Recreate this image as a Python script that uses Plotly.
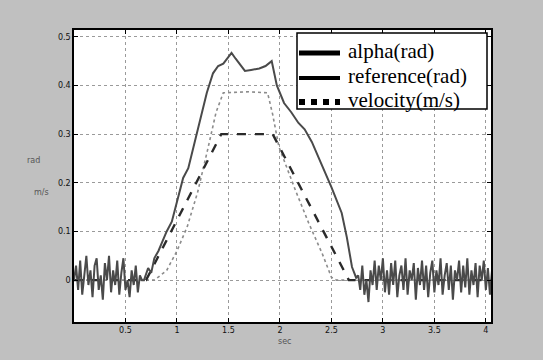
import plotly.graph_objects as go

# ---- data ----
noise_dt = 0.02
alpha_noise_start_t0 = 0.0
alpha_noise_start = [0.00, 0.03, -0.02, 0.04, -0.03, 0.01, 0.05, -0.01, 0.02, -0.035,
                     0.03, 0.045, -0.02, 0.01, -0.04, 0.035, 0.0, 0.05, -0.025, 0.02,
                     -0.01, 0.04, -0.03, 0.015, 0.045, -0.02, 0.0, -0.035, 0.02, -0.01,
                     0.03, -0.025, 0.01, 0.0]
alpha_main_t = [0.68, 0.72, 0.75, 0.78, 0.82, 0.86, 0.90, 0.95, 1.00, 1.06, 1.11, 1.19,
                1.25, 1.29, 1.35, 1.40, 1.45, 1.50, 1.53, 1.57, 1.62, 1.66, 1.72, 1.80,
                1.86, 1.90, 1.92, 1.97, 2.04, 2.11, 2.18, 2.24, 2.31, 2.40, 2.50, 2.60,
                2.65, 2.70, 2.74]
alpha_main_v = [0.0, 0.025, 0.015, 0.045, 0.06, 0.08, 0.10, 0.12, 0.16, 0.21, 0.23, 0.30,
                0.35, 0.385, 0.425, 0.44, 0.445, 0.46, 0.467, 0.455, 0.44, 0.43, 0.432, 0.435,
                0.44, 0.448, 0.45, 0.40, 0.364, 0.345, 0.323, 0.31, 0.284, 0.24, 0.191, 0.138,
                0.088, 0.027, 0.005]
alpha_noise_end_t0 = 2.76
alpha_noise_end = [0.01, -0.02, 0.03, -0.03, 0.0, -0.045, 0.02, -0.01, 0.04, -0.02,
                   0.03, 0.0, 0.045, -0.025, 0.02, -0.03, 0.035, -0.01, 0.04, -0.035,
                   0.01, 0.03, -0.02, 0.045, -0.03, 0.02, 0.0, 0.035, -0.04, 0.025,
                   -0.01, 0.04, -0.02, 0.03, -0.035, 0.015, 0.04, -0.025, 0.02, -0.01,
                   0.045, -0.03, 0.01, 0.035, -0.02, 0.03, -0.04, 0.02, 0.0, 0.04,
                   -0.025, 0.03, -0.015, 0.045, -0.03, 0.02, -0.01, 0.035, -0.035, 0.03,
                   0.0, 0.04, -0.02, 0.025, -0.03, 0.02]

ref_t = [0.0, 0.70, 1.43, 1.93, 2.67, 4.07]
ref_v = [0.0, 0.0, 0.30, 0.30, 0.0, 0.0]

vel_t = [0.0, 0.78, 0.90, 1.00, 1.10, 1.20, 1.30, 1.38, 1.45, 1.70, 1.88, 1.93, 1.99,
         2.15, 2.28, 2.41, 2.50, 2.55, 4.07]
vel_v = [0.0, 0.0, 0.02, 0.06, 0.11, 0.18, 0.27, 0.345, 0.385, 0.387, 0.385, 0.34, 0.274,
         0.185, 0.117, 0.055, 0.006, 0.0, 0.0]

x_ticks = [0.5, 1, 1.5, 2, 2.5, 3, 3.5, 4]
x_tick_text = ["0.5", "1", "1.5", "2", "2.5", "3", "3.5", "4"]
y_ticks = [0, 0.1, 0.2, 0.3, 0.4, 0.5]
y_tick_text = ["0", "0.1", "0.2", "0.3", "0.4", "0.5"]
legend_names = ["alpha(rad)", "reference(rad)", "velocity(m/s)"]

# build alpha series
alpha_t = [alpha_noise_start_t0 + i * noise_dt for i in range(len(alpha_noise_start))]
alpha_t += alpha_main_t
alpha_t += [alpha_noise_end_t0 + i * noise_dt for i in range(len(alpha_noise_end))]
alpha_v = alpha_noise_start + alpha_main_v + alpha_noise_end

# page offset of the figure (browser body margin)
OFF = 8
W, H = 543, 360
BG = "#c0c0c0"
# plot area in page pixels: left 74, right 491, top 30, bottom 322
ML, MT = 74 - OFF, 30 - OFF
MR = W - (491 - OFF)
MB = H - (322 - OFF)
plot_w = W - ML - MR
plot_h = H - MT - MB


def fx(px):
    return (px - OFF - ML) / plot_w


def fy(py):
    return (H - MB - (py - OFF)) / plot_h


fig = go.Figure()
fig.add_trace(go.Scatter(x=vel_t, y=vel_v, mode="lines", name=legend_names[2],
                         showlegend=False,
                         line=dict(color="#8c8c8c", width=1.6, dash="dot")))
fig.add_trace(go.Scatter(x=ref_t, y=ref_v, mode="lines", name=legend_names[1],
                         showlegend=False,
                         line=dict(color="#2a2a2a", width=2.4, dash="dash")))
fig.add_trace(go.Scatter(x=alpha_t, y=alpha_v, mode="lines", name=legend_names[0],
                         showlegend=False,
                         line=dict(color="#4a4a4a", width=2)))

axis_common = dict(showline=True, linecolor="#000000", linewidth=1.5, mirror="ticks",
                   ticks="inside", ticklen=4, tickcolor="#000000",
                   showgrid=True, gridcolor="#9a9a9a", griddash="dot", gridwidth=1,
                   zeroline=False, tickfont=dict(family="DejaVu Sans", size=8, color="#111111"))

fig.update_xaxes(range=[0, 4.05], tickvals=x_ticks, ticktext=x_tick_text, **axis_common)
fig.update_yaxes(range=[-0.086, 0.514], tickvals=y_ticks, ticktext=y_tick_text, **axis_common)

# legend box drawn by hand (to match the tight row spacing of the original)
shapes = [dict(type="rect", xref="paper", yref="paper",
               x0=fx(297), x1=fx(487), y0=fy(109), y1=fy(33),
               fillcolor="#ffffff", line=dict(color="#000000", width=1.5), layer="above")]
rows_y = [52, 77, 101]
sym_styles = [dict(color="#000000", width=5),
              dict(color="#000000", width=4),
              dict(color="#000000", width=6, dash="6px,6px")]
annotations = []
for ry, st, name in zip(rows_y, sym_styles, legend_names):
    shapes.append(dict(type="line", xref="paper", yref="paper",
                       x0=fx(299), x1=fx(340), y0=fy(ry + 1), y1=fy(ry + 1),
                       line=st, layer="above"))
    annotations.append(dict(text=name, x=fx(346), y=fy(ry - 1), xref="paper", yref="paper",
                            xanchor="left", yanchor="middle", showarrow=False,
                            font=dict(family="Liberation Serif", size=21, color="#000000")))

for txt, px, py in [("rad", 25, 160), ("m/s", 32, 192), ("sec", 285, 348)]:
    annotations.append(dict(text=txt, x=fx(px), y=fy(py), xref="paper", yref="paper",
                            showarrow=False,
                            font=dict(size=8, color="#555555", family="DejaVu Sans")))

fig.update_layout(
    width=W, height=H,
    margin=dict(l=ML, r=MR, t=MT, b=MB),
    paper_bgcolor=BG, plot_bgcolor="#ffffff",
    showlegend=False,
    shapes=shapes,
    annotations=annotations,
)

fig.write_html("out.html", post_script="document.body.style.background='%s';" % BG)
